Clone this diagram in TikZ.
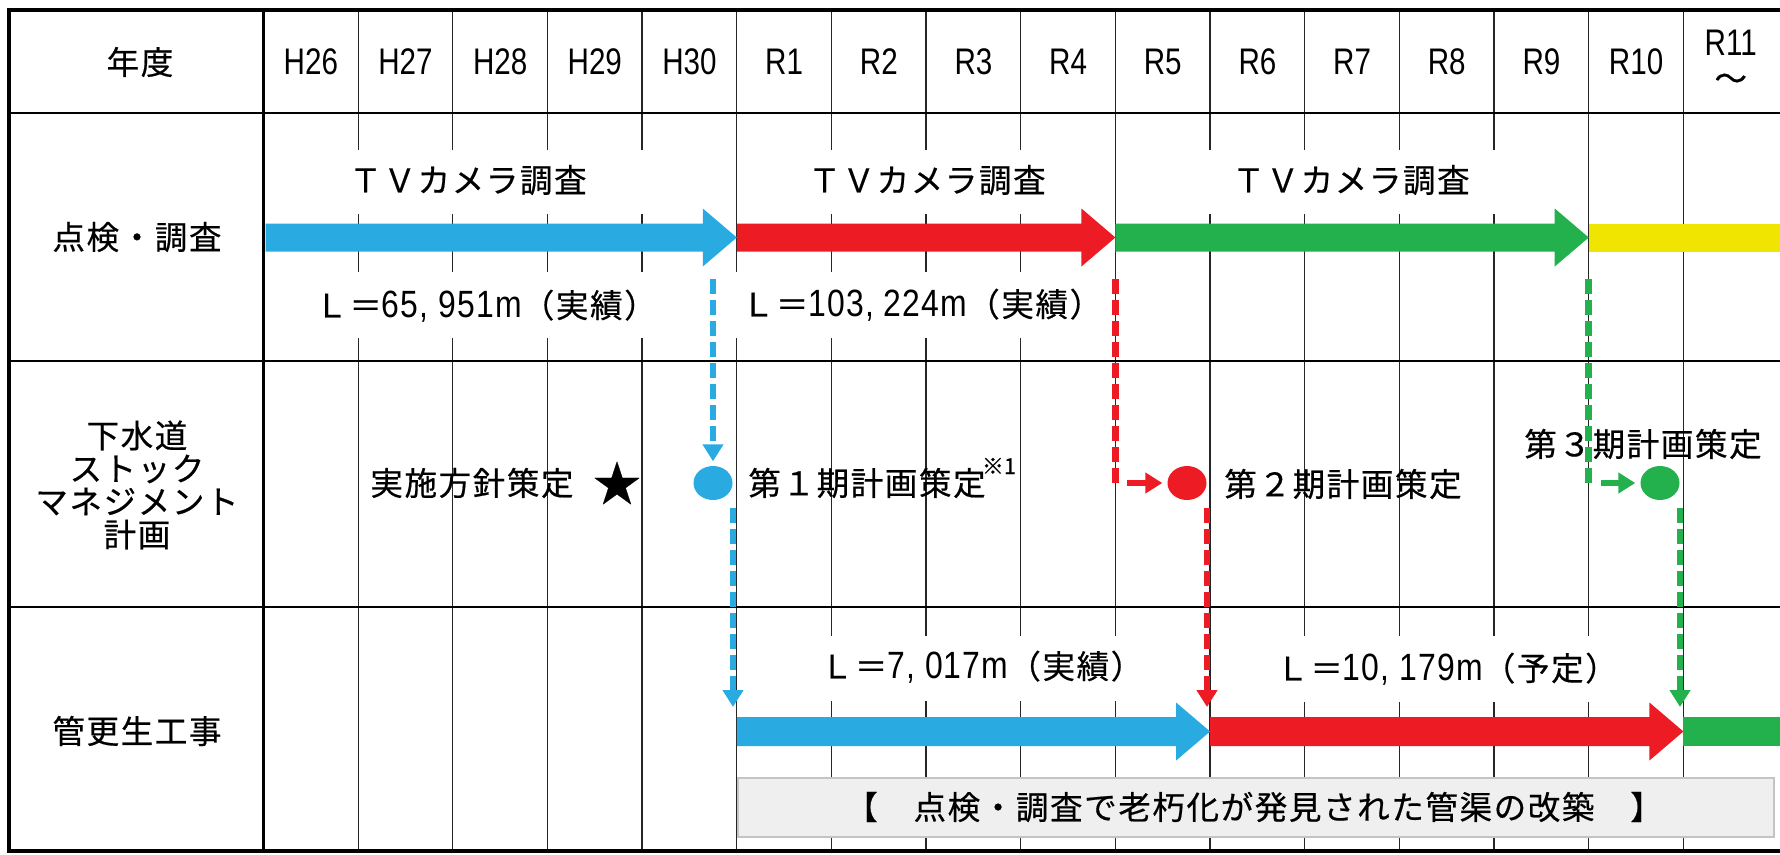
\documentclass[tikz,border=0pt]{standalone}
\usepackage{fontspec}
\newfontfamily\jp[LetterSpace=5,FakeBold=0.5]{Noto Sans CJK JP}
\newfontfamily\jpn[FakeBold=0.5]{Noto Sans CJK JP}
\newfontfamily\nar[FakeStretch=0.8]{Liberation Sans}
\newfontfamily\narnum[FakeStretch=0.84,LetterSpace=3]{Liberation Sans}
\usetikzlibrary{arrows.meta,shapes.geometric}
\definecolor{cblue}{HTML}{29ABE2}
\definecolor{cred}{HTML}{ED1C24}
\definecolor{cgreen}{HTML}{22B14C}
\definecolor{cyellow}{HTML}{F0E500}
\definecolor{boxgray}{HTML}{EFEFEF}
\definecolor{boxline}{HTML}{C4C4C4}
\newcommand\bandarrow[5]{% colour, x1, x2, yc, half shaft
  \fill[#1] (#2,#4-#5) -- (#3-34,#4-#5) -- (#3-34,#4-29) -- (#3,#4)
    -- (#3-34,#4+29) -- (#3-34,#4+#5) -- (#2,#4+#5) -- cycle;}
\newcommand\num[1]{{\narnum\fontsize{38}{38}\selectfont #1}}
\begin{document}
\begin{tikzpicture}[x=1pt,y=-1pt,
  txt/.style={font=\jp\fontsize{32.5}{33}\selectfont, inner sep=0pt, align=center},
  yr/.style={font=\nar\fontsize{37}{40}\selectfont, inner sep=0pt},
  gridline/.style={line width=1.3pt, draw=black!85},
  thickline/.style={line width=2.4pt, draw=black},
  border/.style={line width=4pt, draw=black},
  whitebox/.style={fill=white, draw=none},
  dashcon/.style={line width=6.5pt, dash pattern=on 15pt off 6pt},
  tipcon/.style={-{Triangle[length=17pt,width=20pt]}},
  dot/.style={ellipse, minimum width=39pt, minimum height=34pt, inner sep=0pt, draw=none},
  note/.style={font=\jpn\fontsize{22}{22}\selectfont, inner sep=0pt}
]
\useasboundingbox (0,0) rectangle (1780,854);
\fill[white] (0,0) rectangle (1780,854);

% ---- grid ----
\foreach \k in {1,...,15} {
  \draw[gridline] (263.5+94.66*\k,10) -- (263.5+94.66*\k,851);
}
\draw[thickline] (263.5,10) -- (263.5,851);
\draw[thickline] (9,113) -- (1780,113);
\draw[thickline] (9,361) -- (1780,361);
\draw[thickline] (9,607) -- (1780,607);
\draw[border] (1780,10) -- (9,10) -- (9,851) -- (1780,851);

% ---- white label backgrounds ----
\fill[whitebox] (290,150) rectangle (705,214);
\fill[whitebox] (760,150) rectangle (1095,214);
\fill[whitebox] (1135,150) rectangle (1570,214);
\fill[whitebox] (290,272) rectangle (700,338);
\fill[whitebox] (722,272) rectangle (1100,338);
\fill[whitebox] (760,636) rectangle (1190,701);
\fill[whitebox] (1225,636) rectangle (1660,702);
\filldraw[fill=boxgray, draw=boxline, line width=1.2pt] (738,778) rectangle (1774,837);

% ---- header ----
\node[txt] (hdr) at (140,62) {年度};
\foreach \lab [count=\i from 0] in {H26,H27,H28,H29,H30,R1,R2,R3,R4,R5,R6,R7,R8,R9,R10} {
  \node[yr] (y\i) at (263.5+94.66*\i+47.33,62) {\lab};
}
\node[yr] (y15) at (263.5+94.66*15+47.33,43) {R11};
\node[txt] (y15b) at (263.5+94.66*15+47.33,82) {～};

% ---- row labels ----
\node[txt] (row1) at (137,237) {点検・調査};
\node[txt] (row2) at (137,485) {下水道\\ストック\\マネジメント\\計画};
\node[txt] (row3) at (137,731) {管更生工事};

% ---- row 2 arrows ----
\bandarrow{cblue}{265.5}{736.8}{237.5}{14}
\bandarrow{cred}{736.8}{1115.4}{237.5}{14}
\bandarrow{cgreen}{1115.4}{1588.7}{237.5}{14}
\fill[cyellow] (1588.7,223.5) rectangle (1780,251.5);

\node[txt] (tv1) at (468,180) {ＴＶカメラ調査};
\node[txt] (tv2) at (927,180) {ＴＶカメラ調査};
\node[txt] (tv3) at (1351,180) {ＴＶカメラ調査};
\node[txt] (l1) at (486,306) {Ｌ＝\num{65, 951m}（実績）};
\node[txt] (l2) at (922,305) {Ｌ＝\num{103, 224m}（実績）};

% ---- row 4 arrows ----
\bandarrow{cblue}{736.8}{1210.1}{731.5}{14.5}
\bandarrow{cred}{1210.1}{1683.4}{731.5}{14.5}
\fill[cgreen] (1683.4,717) rectangle (1780,746);

\node[txt] (l3) at (982,667) {Ｌ＝\num{7, 017m}（実績）};
\node[txt] (l4) at (1447,669) {Ｌ＝\num{10, 179m}（予定）};
\node[txt] (repl) at (1254,807) {【　点検・調査で老朽化が発見された管渠の改築　】};

% ---- row 3 ----
\node[txt] (policy) at (472,483) {実施方針策定};
\node[font=\jpn\fontsize{48}{48}\selectfont, inner sep=0pt] (star) at (617,483) {★};
\node[dot, fill=cblue] (d1) at (713,483) {};
\node[dot, fill=cred] (d2) at (1187,483) {};
\node[dot, fill=cgreen] (d3) at (1660,483) {};
\node[txt] (p1) at (867,483) {第１期計画策定};
\node[note] (n1) at (999,466) {※1};
\node[txt] (p2) at (1343,484) {第２期計画策定};
\node[txt] (p3) at (1643,444) {第３期計画策定};

% ---- connectors ----
\coordinate (b1s) at (713,279);
\coordinate (b2s) at (733,508);
\coordinate (b2e) at (733,707);
\coordinate (r1s) at (1115.4,279);
\coordinate (r1c) at (1115.4,483);
\coordinate (r1h) at (1127,483);
\coordinate (r2s) at (1207,508);
\coordinate (r2e) at (1207,707);
\coordinate (g1s) at (1588.7,279);
\coordinate (g1c) at (1588.7,483);
\coordinate (g1h) at (1601,483);
\coordinate (g2s) at (1680,508);
\coordinate (g2e) at (1680,707);

\draw[dashcon, tipcon, cblue, shorten >=4.5pt] (b1s) -- (d1.north);
\draw[dashcon, tipcon, cblue] (b2s) -- (b2e);
\draw[dashcon, cred] (r1s) -- (r1c);
\draw[line width=6.5pt, tipcon, cred, shorten >=5pt] (r1h) -- (d2.west);
\draw[dashcon, tipcon, cred] (r2s) -- (r2e);
\draw[dashcon, cgreen] (g1s) -- (g1c);
\draw[line width=6.5pt, tipcon, cgreen, shorten >=5pt] (g1h) -- (d3.west);
\draw[dashcon, tipcon, cgreen] (g2s) -- (g2e);
\end{tikzpicture}
\end{document}
